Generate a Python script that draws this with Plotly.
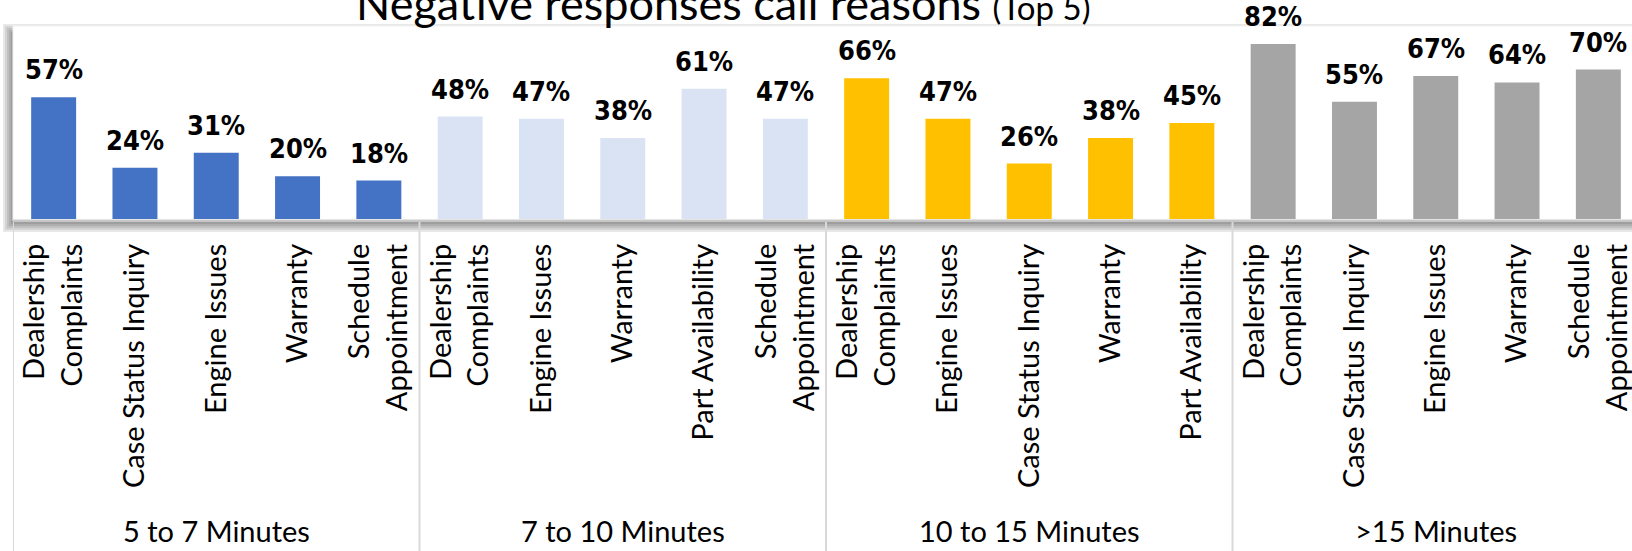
import plotly.graph_objects as go

# ---- data -------------------------------------------------------------
groups = ["5 to 7 Minutes", "7 to 10 Minutes", "10 to 15 Minutes", ">15 Minutes"]

reasons_5_7 = ["Dealership Complaints", "Case Status Inquiry", "Engine Issues",
               "Warranty", "Schedule Appointment"]
values_5_7 = [57, 24, 31, 20, 18]

reasons_7_10 = ["Dealership Complaints", "Engine Issues", "Warranty",
                "Part Availability", "Schedule Appointment"]
values_7_10 = [48, 47, 38, 61, 47]

reasons_10_15 = ["Dealership Complaints", "Engine Issues", "Case Status Inquiry",
                 "Warranty", "Part Availability"]
values_10_15 = [66, 47, 26, 38, 45]

reasons_15_plus = ["Dealership Complaints", "Case Status Inquiry", "Engine Issues",
                   "Warranty", "Schedule Appointment"]
values_15_plus = [82, 55, 67, 64, 70]

group_colors = ["#4472C4", "#DAE3F3", "#FFC000", "#A5A5A5"]

# ---- geometry (pixels) ------------------------------------------------
W, H = 1632, 551
PL, PR = 13, 1632          # plot area left / right edge
PT, PB = 27, 219           # plot area top / value-zero baseline
SLOT = 81.3                # width of one category slot

def xp(p):  # pixel -> paper x
    return (p - PL) / (PR - PL)

def yp(p):  # pixel -> paper y
    return (PB - p) / (PB - PT)

def wrap(label):
    if len(label) > 19 and " " in label:
        a, b = label.split(" ", 1)
        return a + "<br>" + b
    return label

group_reasons = [reasons_5_7, reasons_7_10, reasons_10_15, reasons_15_plus]
group_values = [values_5_7, values_7_10, values_10_15, values_15_plus]

fig = go.Figure()
tickvals, ticktext, annotations = [], [], []
label_font = dict(family="Liberation Sans Narrow, Arial Narrow, DejaVu Sans Condensed",
                  size=27, color="#000000", weight="bold")
text_family = "Lato, Carlito, Calibri, sans-serif"

for gi, (reasons, vals) in enumerate(zip(group_reasons, group_values)):
    xs = [gi * 5 + j for j in range(len(vals))]
    fig.add_trace(go.Bar(
        x=xs, y=vals, name=groups[gi],
        marker=dict(color=group_colors[gi], line=dict(width=0)),
        hoverinfo="skip",
    ))
    tickvals += xs
    ticktext += [wrap(r) for r in reasons]
    for x, v in zip(xs, vals):
        annotations.append(dict(
            x=x, y=v, xref="x", yref="y", text=f"{v}%", showarrow=False,
            yanchor="bottom", yshift=10, font=label_font,
        ))
    # group caption under the category labels
    annotations.append(dict(
        x=gi * 5 + 2, y=yp(530), xref="x", yref="paper", text=groups[gi],
        showarrow=False, yanchor="middle",
        font=dict(family=text_family, size=29, color="#000000"),
    ))

# chart title (partly above the page edge)
annotations.append(dict(
    x=xp(723), y=yp(32), xref="paper", yref="paper", xanchor="center", yanchor="bottom",
    text="Negative responses call reasons <span style='font-size:33px'>(Top 5)</span>",
    showarrow=False,
    font=dict(family=text_family, size=45, color="#000000"),
))

# ---- plot-area frame with soft shadow --------------------------------
shapes = []
for k in range(7):
    e = 6 - 2 * k
    shapes.append(dict(
        type="rect", xref="paper", yref="paper", layer="below",
        x0=xp(PL - 4 - e), x1=xp(PR + 20 + e), y0=yp(26 + 4 - e), y1=yp(221 + 5 + e),
        fillcolor="rgba(0,0,0,0.09)", line=dict(width=0),
    ))
shapes.append(dict(
    type="rect", xref="paper", yref="paper", layer="below",
    x0=xp(PL), x1=xp(PR + 20), y0=yp(26), y1=yp(221),
    fillcolor="#FFFFFF", line=dict(color="#F2F2F2", width=1),
))
# category axis line
shapes.append(dict(
    type="line", xref="paper", yref="paper", layer="above",
    x0=xp(PL), x1=1.0, y0=yp(220.5), y1=yp(220.5),
    line=dict(color="#C9C9C9", width=2),
))
# group dividers
for xb in [-0.5, 4.5, 9.5, 14.5]:
    shapes.append(dict(
        type="line", xref="x", yref="paper", layer="above",
        x0=xb, x1=xb, y0=yp(222), y1=yp(H + 2),
        line=dict(color="#D9D9D9", width=2),
    ))

fig.update_layout(
    width=W, height=H,
    margin=dict(l=PL, r=W - PR, t=PT, b=H - PB, pad=0),
    paper_bgcolor="#FFFFFF", plot_bgcolor="rgba(0,0,0,0)",
    showlegend=False, bargap=0.447,
    annotations=annotations, shapes=shapes,
    xaxis=dict(
        range=[-0.5, -0.5 + (PR - PL) / SLOT],
        tickmode="array", tickvals=tickvals, ticktext=ticktext,
        tickangle=-90, ticks="", ticklabelstandoff=18, ticklabeloverflow="allow",
        showgrid=False, zeroline=False, showline=False, fixedrange=True,
        tickfont=dict(family=text_family, size=29, color="#000000"),
    ),
    yaxis=dict(range=[0, (PB - PT) / 2.134], visible=False, fixedrange=True),
)

fig.write_html("out.html")
